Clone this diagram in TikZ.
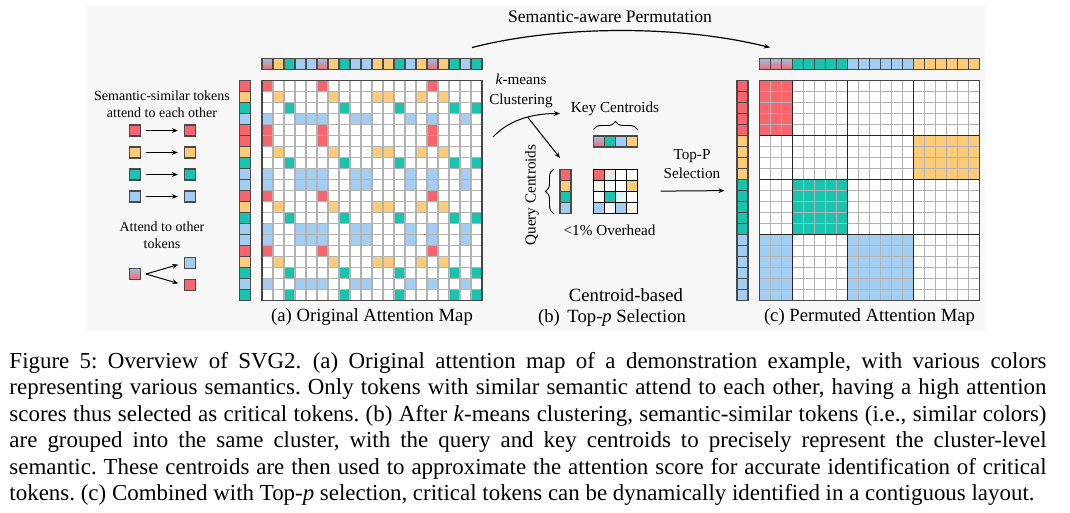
\documentclass[tikz,border=0pt]{standalone}
\usepackage{fontspec}
\setmainfont{Liberation Serif}
\usetikzlibrary{arrows.meta,decorations.pathreplacing}

\definecolor{tokR}{HTML}{F9656D}
\definecolor{tokY}{HTML}{FECB78}
\definecolor{tokT}{HTML}{1AC3AD}
\definecolor{tokB}{HTML}{A3CDF1}
\definecolor{panelgray}{HTML}{F7F7F7}
\definecolor{gridgray}{HTML}{B2B2B2}
\definecolor{bargray}{HTML}{4A4A4A}

\def\tokM{M}
\def\tokY{Y}
\def\tokT{T}

\tikzset{every picture/.style={line width=0.75pt}}
\tikzset{
  fillR/.style={fill=tokR}, fillY/.style={fill=tokY}, fillT/.style={fill=tokT},
  fillB/.style={fill=tokB}, fillW/.style={fill=white},
  fillM/.style={top color=tokB!85!gray, bottom color=tokR},
  faintRT/.style={top color=tokR!18, bottom color=tokT!18},
  faintYT/.style={top color=tokY!28, bottom color=tokT!8},
  faintTB/.style={top color=tokT!16, bottom color=tokB!22},
  faintBY/.style={top color=tokB!14, bottom color=tokY!30},
  tokcell/.style={draw=bargray, line width=1.1pt},
  mapcell/.style={draw=gridgray, line width=1.1pt},
  mapframe/.style={draw=gray!55!black, line width=1.2pt},
  blockline/.style={draw=black!85, line width=1.2pt},
  cmcell/.style={draw=black, line width=0.9pt},
  tokbox/.style={draw=bargray, line width=1.1pt, minimum size=8.25pt, inner sep=0pt},
  lefttext/.style={font=\fontsize{10.5}{13}\selectfont, align=center, inner sep=0pt},
  smalltext/.style={font=\fontsize{11.4}{13.7}\selectfont, align=center, inner sep=0pt},
  midtext/.style={font=\fontsize{13.2}{15}\selectfont, inner sep=0pt},
  subcap/.style={font=\fontsize{14}{17}\selectfont, inner sep=0pt},
  linkarrow/.style={-{Stealth[length=4.5pt,width=3.5pt]}, line width=0.75pt},
}

\begin{document}
\begin{tikzpicture}[x=0.75pt,y=0.75pt,yscale=-1,xscale=1]
\useasboundingbox (0,0) rectangle (1070,512);

%Panel background
\fill[panelgray] (87,6) rectangle (985,331);

%Original attention map: token bars and cells
\foreach \coltok [count=\nc] in {M,Y,T,B,B,M,Y,T,B,B,Y,Y,T,B,Y,M,Y,T,B,T}{
  \draw[tokcell, fill\coltok] ({251+11*\nc},58.5) rectangle ++(11,11);
}
\foreach \rowtok [count=\nr] in {R,Y,T,B,R,R,Y,T,B,B,R,Y,T,B,B,R,Y,T,B,T}{
  \draw[tokcell, fill\rowtok] (239.5,{69.5+11*\nr}) rectangle ++(11,11);
  \foreach \coltok [count=\nc] in {M,Y,T,B,B,M,Y,T,B,B,Y,Y,T,B,Y,M,Y,T,B,T}{
    \def\cellfill{fillW}
    \ifx\rowtok\coltok \def\cellfill{fill\rowtok}\fi
    \ifx\coltok\tokM \ifx\rowtok\tokY\else\ifx\rowtok\tokT\else\def\cellfill{fill\rowtok}\fi\fi\fi
    \draw[mapcell, \cellfill] ({251+11*\nc},{69.5+11*\nr}) rectangle ++(11,11);
  }
}
\draw[mapframe] (262,80.5) rectangle (482,300.5);

%Permuted attention map: token bars and cells
\foreach \coltok [count=\nc] in {M,M,M,T,T,T,T,T,B,B,B,B,B,B,Y,Y,Y,Y,Y,Y}{
  \draw[tokcell, fill\coltok] ({748.5+11*\nc},58.5) rectangle ++(11,11);
}
\foreach \rowtok [count=\nr] in {R,R,R,R,R,Y,Y,Y,Y,T,T,T,T,T,B,B,B,B,B,B}{
  \draw[tokcell, fill\rowtok] (737,{69.5+11*\nr}) rectangle ++(11,11);
  \foreach \coltok [count=\nc] in {M,M,M,T,T,T,T,T,B,B,B,B,B,B,Y,Y,Y,Y,Y,Y}{
    \def\cellfill{fillW}
    \ifx\rowtok\coltok \def\cellfill{fill\rowtok}\fi
    \ifx\coltok\tokM \ifx\rowtok\tokY\else\ifx\rowtok\tokT\else\def\cellfill{fill\rowtok}\fi\fi\fi
    \draw[mapcell, \cellfill] ({748.5+11*\nc},{69.5+11*\nr}) rectangle ++(11,11);
  }
}
\foreach \bx in {792.5,847.5,913.5} \draw[blockline] (\bx,80.5) -- (\bx,300.5);
\foreach \by in {135.5,179.5,234.5} \draw[blockline] (759.5,\by) -- (979.5,\by);
\draw[mapframe] (759.5,80.5) rectangle (979.5,300.5);
\node[minimum width=8.25pt, minimum height=165pt, inner sep=0pt] (pbar) at (742.5,190.5) {};

%Semantic-aware permutation
\coordinate (permfrom) at (472,47.5);
\coordinate (permto) at (770,47.5);
\draw[linkarrow, line width=0.9pt] (permfrom) .. controls (560,25) and (680,25) .. (permto);
\node[midtext] (permtxt) at (610,17) {Semantic-aware Permutation};

%Left legend
\node[lefttext] (simtxt) at (162,104) {Semantic-similar tokens\\attend to each other};
\foreach \tk/\yy [count=\k] in {R/130.5,Y/152.5,T/174.5,B/196.5}{
  \node[tokbox, fill\tk] (simL\k) at (135,\yy) {};
  \node[tokbox, fill\tk] (simR\k) at (190,\yy) {};
  \draw[linkarrow, shorten <=3.6pt, shorten >=4.3pt] (simL\k) -- (simR\k);
}
\node[lefttext] (othtxt) at (162,235.5) {Attend to other\\tokens};
\node[tokbox, fillM] (mixL) at (135,274) {};
\node[tokbox, fillB] (mixB) at (190,263) {};
\node[tokbox, fillR] (mixR) at (190,285) {};
\coordinate (mixO) at (146,274);
\draw[linkarrow, shorten >=4.3pt] (mixO) -- (mixB.west);
\draw[linkarrow, shorten >=4.3pt] (mixO) -- (mixR.west);

%k-means clustering
\node[smalltext] (kmtxt) at (521,91) {\textit{k}-means\\[1pt]Clustering};
\coordinate (kmstart) at (493,137);
\coordinate (kmend) at (560,113.5);
\coordinate (kmfork) at (528,117.5);
\coordinate (kmtip) at (560,158);
\draw[linkarrow] (kmstart) .. controls (508,121) and (530,113.5) .. (kmend);
\draw[linkarrow] (kmfork) -- (kmtip);

%Centroids
\node[smalltext] (keytxt) at (615,109.3) {Key Centroids};
\draw[decorate, decoration={brace, amplitude=6pt}, line width=0.7pt] (593.5,129.5) -- (637.5,129.5);
\foreach \cs [count=\k] in {fillM,fillT,fillB,fillY}{
  \draw[tokcell, \cs] ({582.5+11*\k},136) rectangle ++(11,11);
}
\node[smalltext, rotate=90] (qrytxt) at (532,195) {Query Centroids};
\draw[decorate, decoration={brace, amplitude=6pt}, line width=0.7pt] (553.5,213.5) -- (553.5,169.3);
\node[minimum width=8.25pt, minimum height=33pt, inner sep=0pt] (qbar) at (565.5,191.3) {};
\foreach \cs [count=\k] in {fillR,fillY,fillT,fillB}{
  \draw[tokcell, \cs] (560,{158.3+11*\k}) rectangle ++(11,11);
}
\foreach \cs [count=\n from 0] in {fillR,faintRT,fillW,fillW,faintYT,fillW,fillW,fillY,fillW,fillT,faintTB,fillW,fillB,fillW,fillB,faintBY}{
  \pgfmathtruncatemacro\ci{mod(\n,4)}
  \pgfmathtruncatemacro\ri{div(\n,4)}
  \draw[cmcell, \cs] ({593.5+11*\ci},{169.3+11*\ri}) rectangle ++(11,11);
}
\node[draw=black, line width=1pt, minimum size=33pt, inner sep=0pt] (cmat) at (615.5,191.3) {};
\node[smalltext] (ovhtxt) at (609.5,230) {<1\% Overhead};

%Top-p selection
\node[smalltext] (toptxt) at (692,164) {Top-P\\Selection};
\draw[linkarrow, shorten <=16.9pt, shorten >=9pt] (cmat.east) -- (pbar.west);

%Sub-captions
\node[subcap] (capa) at (372,317) {(a) Original Attention Map};
\node[subcap] (capb1) at (626,295) {Centroid-based};
\node[subcap] (capb2) at (626.7,318.3) {Top-\textit{p} Selection};
\node[subcap] (capb) at (549,318.3) {(b)};
\node[subcap] (capc) at (869.5,317) {(c) Permuted Attention Map};

%Figure caption
\node[anchor=north west, inner sep=0pt, text width=777.75pt, align=justify, font=\fontsize{17.2}{19.9}\selectfont\frenchspacing] (figcap) at (9,351.5) {Figure 5: Overview of SVG2.\enspace (a) Original attention map of a demonstration example, with various colors\linebreak representing various semantics. Only tokens with similar semantic attend to each other, having a high attention\linebreak scores thus selected as critical tokens. (b) After \textit{k}-means clustering, semantic-similar tokens (i.e., similar colors)\linebreak are grouped into the same cluster, with the query and key centroids to precisely represent the cluster-level\linebreak semantic. These centroids are then used to approximate the attention score for accurate identification of critical\linebreak tokens. (c) Combined with Top-\textit{p} selection, critical tokens can be dynamically identified in a contiguous layout.};

\end{tikzpicture}
\end{document}
